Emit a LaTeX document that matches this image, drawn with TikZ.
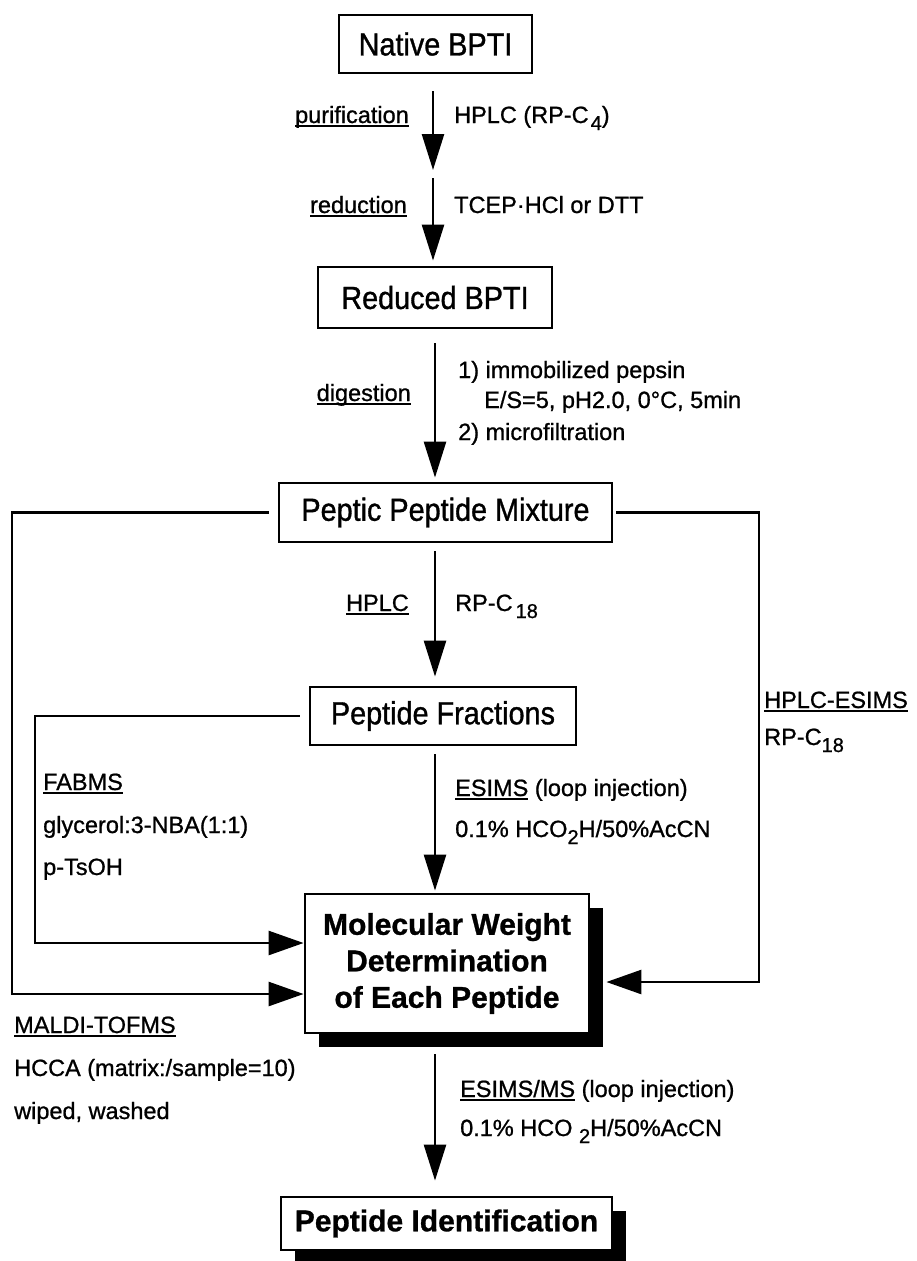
\documentclass[tikz,border=0pt]{standalone}
\usepackage{fontspec}
\setmainfont{Liberation Sans}[FakeBold=0.9]
\newfontfamily\boxfont{Liberation Sans}[FakeStretch=0.9, FakeBold=1.0]
\usetikzlibrary{arrows.meta,shadows}
% underlined label with a heavy rule
\newcommand\undl[1]{\setbox0\hbox{#1}\rlap{\rule[-4pt]{\wd0}{2pt}}\box0\relax}
% lowered index digits
\newcommand\lowsub[1]{\raisebox{-7pt}{\fontsize{20}{20}\selectfont #1}}

\begin{document}
\begin{tikzpicture}[x=1pt,y=-1pt,
  every node/.style={inner sep=0pt},
  stage/.style={draw, line width=2.8pt, fill=white, align=center,
    font=\boxfont\fontsize{32}{36}\selectfont},
  result/.style={draw, line width=2.8pt, fill=white, align=center,
    font=\bfseries\fontsize{30}{36.5}\selectfont,
    drop shadow={opacity=1, fill=black, shadow xshift=14pt, shadow yshift=-14pt}},
  lab/.style={anchor=base west, font=\fontsize{23.5}{28}\selectfont},
  labr/.style={anchor=base east, font=\fontsize{23.5}{28}\selectfont},
  flow/.style={line width=2.6pt, -{Triangle[length=36pt,width=22pt]}},
  feed/.style={line width=2.6pt, -{Triangle[length=35pt,width=24pt]}},
]
\useasboundingbox (0,0) rectangle (917,1261);
\fill[white] (0,0) rectangle (917,1261);

% process stages
\node[stage, minimum width=193pt, minimum height=58pt] (native) at (435.5,44) {Native BPTI};
\node[stage, minimum width=234pt, minimum height=61pt] (reduced) at (435,297.5) {Reduced BPTI};
\node[stage, minimum width=333pt, minimum height=59pt] (peptic) at (445.5,512.5) {Peptic Peptide Mixture};
\node[stage, minimum width=266pt, minimum height=58pt] (fractions) at (443,716) {Peptide Fractions};
\node[result, minimum width=284pt, minimum height=139pt] (mw) at (447,963.5)
  {Molecular Weight\\Determination\\of Each Peptide};
\node[result, minimum width=331pt, minimum height=53pt] (pid) at (446.5,1223.5) {Peptide Identification};

% guide coordinates for the vertical spine and the side rails
\coordinate (spine) at (435,0);
\coordinate (gap1) at (433,174);
\coordinate (lrail) at (12,0);
\coordinate (frail) at (35,0);
\coordinate (rrail) at (759,0);

% main flow
\draw[flow] ([yshift=-17pt]native.south -| gap1) -- ([yshift=4pt]gap1);
\draw[flow] ([yshift=-4pt]gap1) -- ([yshift=5pt]reduced.north -| gap1);
\draw[flow] ([yshift=-14pt]reduced.south -| spine) -- ([yshift=4pt]peptic.north -| spine);
\draw[flow] ([yshift=-8pt]peptic.south -| spine) -- ([yshift=9pt]fractions.north -| spine);
\draw[flow] ([yshift=-8pt]fractions.south -| spine) -- ([yshift=2pt]mw.north -| spine);
\draw[flow] ([yshift=-20pt]mw.south -| spine) -- ([yshift=15pt]pid.north -| spine);

% side routes into the molecular weight box
\draw[feed] ([xshift=-9pt]peptic.west) -- (peptic.west -| lrail) |- ([yshift=-30.5pt]mw.west);
\draw[feed] ([xshift=-9pt]fractions.west) -- (fractions.west -| frail) |- ([yshift=20.5pt]mw.west);
\draw[feed] ([xshift=3pt]peptic.east) -- (peptic.east -| rrail) |- ([xshift=16pt,yshift=-18.5pt]mw.east);

% step labels
\node[labr] (l1) at (409,123) {\undl{purification}};
\node[lab] (r1) at (454,123) {HPLC (RP-C\kern2pt\lowsub{4})};
\node[labr] (l2) at (407,213) {\undl{reduction}};
\node[lab] (r2) at (454,213) {TCEP·HCl or DTT};
\node[labr] (l3) at (411,401) {\undl{digestion}};
\node[lab] (r3a) at (458,378) {1) immobilized pepsin};
\node[lab] (r3b) at (484,408) {E/S=5, pH2.0, 0°C, 5min};
\node[lab] (r3c) at (458,440) {2) microfiltration};
\node[labr] (l4) at (409,611) {\undl{HPLC}};
\node[lab] (r4) at (455,611) {RP-C\kern3pt\lowsub{18}};
\node[lab] (r5a) at (455,796) {\undl{ESIMS} (loop injection)};
\node[lab] (r5b) at (455,837) {0.1\% HCO\lowsub{2}H/50\%AcCN};
\node[lab] (f1) at (43,790) {\undl{FABMS}};
\node[lab] (f2) at (43,833) {glycerol:3-NBA(1:1)};
\node[lab] (f3) at (43,875) {p-TsOH};
\node[lab] (m1) at (14,1033) {\undl{MALDI-TOFMS}};
\node[lab] (m2) at (14,1076) {HCCA (matrix:/sample=10)};
\node[lab] (m3) at (14,1119) {wiped, washed};
\node[lab] (h1) at (764,708) {\undl{HPLC-ESIMS}};
\node[lab] (h2) at (764,745) {RP-C\lowsub{18}};
\node[lab] (r6a) at (460,1097) {\undl{ESIMS/MS} (loop injection)};
\node[lab] (r6b) at (460,1136) {0.1\% HCO \lowsub{2}H/50\%AcCN};
\end{tikzpicture}
\end{document}
